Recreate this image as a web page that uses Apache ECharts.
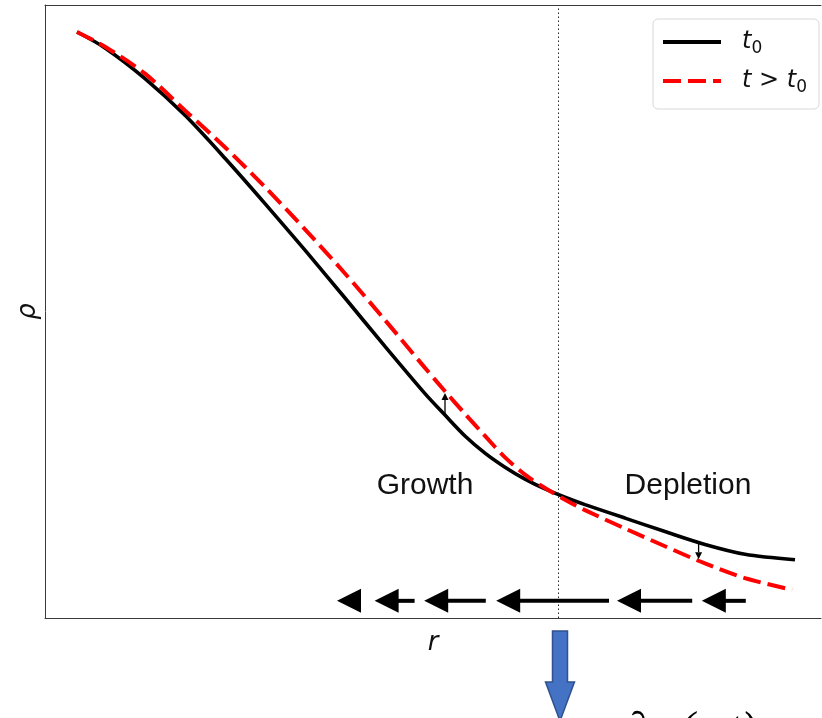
<!DOCTYPE html>
<html>
<head>
<meta charset="utf-8">
<script src="https://cdn.jsdelivr.net/npm/echarts@6/dist/echarts.min.js"></script>
<style>html,body{margin:0;padding:0;background:#fff}#c{width:822px;height:718px}</style>
</head>
<body>
<div id="c"></div>
<script>
// ---- data ----
const seriesNames = ['t0', 't>t0'];
const rT0 = [0.4, 0.75, 1.25, 1.75, 2.25, 2.75, 3.25, 3.75, 4.25, 4.75, 5.0, 5.25, 5.5, 5.75, 6.0, 6.25, 6.5, 6.75, 7.25, 7.75, 8.25, 8.75, 9.375];
const rhoT0 = [9.56, 9.30, 8.80, 8.20, 7.50, 6.76, 6.00, 5.22, 4.43, 3.66, 3.31, 2.97, 2.69, 2.46, 2.265, 2.105, 1.97, 1.85, 1.63, 1.41, 1.20, 1.04, 0.95];
const rLater = [0.4, 0.75, 1.25, 1.75, 2.25, 2.75, 3.25, 3.75, 4.25, 4.75, 5.0, 5.25, 5.5, 5.75, 6.0, 6.25, 6.5, 6.75, 7.25, 7.75, 8.25, 8.75, 9.34];
const rhoLater = [9.56, 9.32, 8.88, 8.28, 7.68, 7.03, 6.34, 5.62, 4.86, 4.08, 3.70, 3.33, 2.97, 2.62, 2.34, 2.12, 1.93, 1.76, 1.46, 1.17, 0.89, 0.65, 0.46];
const crossR = 6.41;
const changeArrowR = [5.0, 8.17];
const changeArrowFrom = [3.31, 1.24];
const changeArrowTo = [3.67, 0.96];
const fluxArrowTips = [3.65, 4.12, 4.74, 5.64, 7.15, 8.21];
const fluxArrowTails = [3.95, 4.62, 5.51, 7.05, 8.09, 8.76];
const fluxArrowRho = 0.28;
const regionLabels = ['Growth', 'Depletion'];
const axisNames = ['r', 'ρ'];

// ---- chart ----
const chart = echarts.init(document.getElementById('c'));

function renderFlux(params, api) {
  const tip = api.coord([api.value(0), api.value(2)]);
  const tail = api.coord([api.value(1), api.value(2)]);
  const dir = tail[0] >= tip[0] ? 1 : -1;
  const headLen = 24, halfW = 12;
  const back = tip[0] + dir * headLen;
  const children = [];
  if ((tail[0] - back) * dir > 0) {
    children.push({type: 'line', shape: {x1: back - dir * 2, y1: tip[1], x2: tail[0], y2: tail[1]},
      style: {stroke: '#000', lineWidth: 4}});
  }
  children.push({type: 'polygon', shape: {points: [[tip[0], tip[1]], [back, tip[1] - halfW], [back, tip[1] + halfW]]},
    style: {fill: '#000'}});
  return {type: 'group', children};
}

function renderChange(params, api) {
  const a = api.coord([api.value(0), api.value(1)]);
  const b = api.coord([api.value(0), api.value(2)]);
  const dir = b[1] > a[1] ? 1 : -1;
  const hl = 7, hw = 3.5;
  return {type: 'group', children: [
    {type: 'line', shape: {x1: a[0], y1: a[1], x2: b[0], y2: b[1] - dir * hl}, style: {stroke: '#000', lineWidth: 1.3}},
    {type: 'polygon', shape: {points: [[b[0], b[1]], [b[0] - hw, b[1] - dir * hl], [b[0] + hw, b[1] - dir * hl]]}, style: {fill: '#000'}}
  ]};
}

const legendFmt = n => n === 't0' ? '{t|t}{s|0}' : '{t|t}{g| > }{t|t}{s|0}';
const frameLine = {show: true, onZero: false, lineStyle: {color: '#3a3a3a', width: 1}};

const option = {
  animation: false,
  backgroundColor: '#fff',
  grid: {left: 45, top: 5, bottom: 100, right: 1, show: false},
  xAxis: [
    {
      type: 'value', min: 0, max: 9.7, position: 'bottom',
      axisLine: frameLine, axisTick: {show: false}, axisLabel: {show: false}, splitLine: {show: false},
      name: axisNames[0], nameLocation: 'middle', nameGap: 12,
      nameTextStyle: {fontFamily: 'DejaVu Sans', fontStyle: 'italic', fontSize: 26, color: '#111'}
    },
    {
      type: 'value', min: 0, max: 9.7, position: 'top',
      axisLine: frameLine, axisTick: {show: false}, axisLabel: {show: false}, splitLine: {show: false}
    }
  ],
  yAxis: {
    type: 'value', min: 0, max: 10, position: 'left',
    axisLine: frameLine, axisTick: {show: false}, axisLabel: {show: false}, splitLine: {show: false},
    name: axisNames[1], nameLocation: 'middle', nameGap: 4,
    nameTextStyle: {fontFamily: 'DejaVu Sans', fontStyle: 'italic', fontSize: 26, color: '#111'}
  },
  legend: {
    data: seriesNames, orient: 'vertical', left: 653, top: 19,
    padding: [11, 12, 13, 8], itemGap: 12, itemWidth: 58, itemHeight: 14,
    backgroundColor: '#fff', borderColor: '#d8d8d8', borderWidth: 1, borderRadius: 5,
    itemStyle: {opacity: 0},
    lineStyle: {width: 4},
    formatter: legendFmt,
    textStyle: {
      padding: [0, 0, 0, 16],
      rich: {
        t: {fontFamily: 'DejaVu Sans', fontStyle: 'italic', fontSize: 24, lineHeight: 30, color: '#111'},
        g: {fontFamily: 'DejaVu Sans', fontSize: 24, lineHeight: 30, color: '#111'},
        s: {fontFamily: 'DejaVu Sans', fontSize: 17, lineHeight: 17, verticalAlign: 'bottom', color: '#111'}
      }
    }
  },
  series: [
    {
      name: seriesNames[0], type: 'line', smooth: 0.3, symbol: 'none', z: 3,
      data: rT0.map((r, i) => [r, rhoT0[i]]),
      lineStyle: {color: '#000', width: 3.6},
      itemStyle: {color: '#000'},
      markLine: {
        silent: true, symbol: 'none', label: {show: false},
        lineStyle: {color: '#222', width: 1, type: [1.5, 2.5]},
        data: [{xAxis: crossR}]
      }
    },
    {
      name: seriesNames[1], type: 'line', smooth: 0.3, symbol: 'none', z: 4,
      data: rLater.map((r, i) => [r, rhoLater[i]]),
      lineStyle: {color: '#ff0000', width: 4, type: [18, 7]},
      itemStyle: {color: '#ff0000'}
    },
    {
      type: 'custom', z: 5, renderItem: renderChange, silent: true,
      data: changeArrowR.map((r, i) => [r, changeArrowFrom[i], changeArrowTo[i]])
    },
    {
      type: 'custom', z: 5, renderItem: renderFlux, silent: true,
      data: fluxArrowTips.map((t, i) => [t, fluxArrowTails[i], fluxArrowRho])
    }
  ],
  graphic: [
    {type: 'text', x: 425, y: 486, style: {text: regionLabels[0], fontFamily: 'Liberation Sans', fontSize: 30, fill: '#111', align: 'center', verticalAlign: 'middle'}},
    {type: 'text', x: 688, y: 486, style: {text: regionLabels[1], fontFamily: 'Liberation Sans', fontSize: 30, fill: '#111', align: 'center', verticalAlign: 'middle'}},
    {type: 'polygon', shape: {points: [[552.5, 631], [567.5, 631], [567.5, 682], [574.5, 682], [560, 721], [545.5, 682], [552.5, 682]]},
      style: {fill: '#4472C4', stroke: '#2F528F', lineWidth: 1.5}},
    {type: 'text', x: 626, y: 730, style: {text: '∂ρ', fontFamily: 'Liberation Serif', fontSize: 42, fill: '#000', align: 'left', verticalAlign: 'middle'}},
    {type: 'text', x: 680, y: 730, style: {text: '(r, t)', fontFamily: 'Liberation Serif', fontStyle: 'italic', fontSize: 44, fill: '#000', align: 'left', verticalAlign: 'middle'}}
  ]
};
chart.setOption(option);
</script>
</body>
</html>
